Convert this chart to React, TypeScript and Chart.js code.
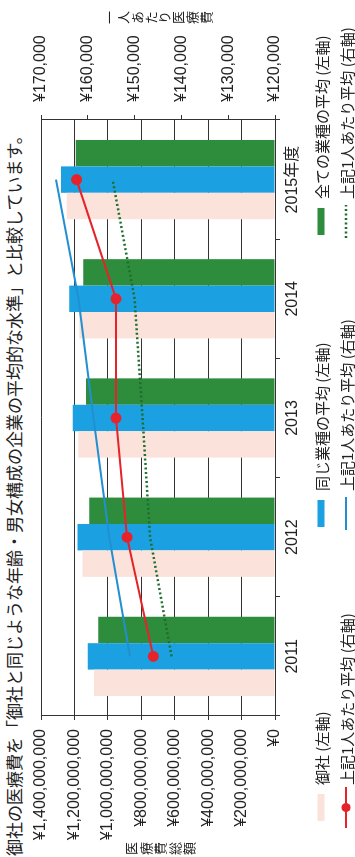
import React, { useEffect, useRef } from "react";
import { Chart, registerables } from "chart.js";

Chart.register(...registerables);

const categories = ["2011", "2012", "2013", "2014", "2015年度"];
const ownTotal = [1083000000, 1151000000, 1177000000, 1171000000, 1246000000];
const sameIndustryTotal = [1121000000, 1181000000, 1210000000, 1231000000, 1280000000];
const allIndustryTotal = [1057000000, 1111000000, 1131000000, 1147000000, 1192000000];
const ownPerPerson = [146000, 151600, 154000, 154000, 162400];
const samePerPerson = [151000, 155400, 158800, 162000, 166800];
const allPerPerson = [142100, 146700, 148300, 150000, 154700];

const leftTicks = { min: 0, max: 1400000000, step: 200000000 };
const rightTicks = { min: 120000, max: 170000, step: 10000 };

const titleText = "御社の医療費を「御社と同じような年齢・男女構成の企業の平均的な水準」と比較しています。";
const leftAxisTitle = "医療費総額";
const rightAxisTitle = "一人あたり医療費";

const PINK = "#fbe3db";
const BLUE = "#1ba0e2";
const GREEN = "#2e8c3d";
const RED = "#e6232b";
const LBLUE = "#2290d0";
const DGREEN = "#1f6e2c";

const W = 857;
const H = 355;
const LATIN = "'Liberation Sans', Arial, 'Noto Sans CJK JP', sans-serif";
const CJK = "'Noto Sans CJK JP', 'Liberation Sans', sans-serif";

const legendRows = [
  [
    { kind: "box", color: PINK, label: "御社 (左軸)" },
    { kind: "box", color: BLUE, label: "同じ業種の平均 (左軸)" },
    { kind: "box", color: GREEN, label: "全ての業種の平均 (左軸)" },
  ],
  [
    { kind: "marker", color: RED, label: "上記1人あたり平均 (右軸)" },
    { kind: "line", color: LBLUE, label: "上記1人あたり平均 (右軸)" },
    { kind: "dot", color: DGREEN, label: "上記1人あたり平均 (右軸)" },
  ],
];
const legendCols = [29, 323, 615];
const legendRowY = [321, 346];

function Symbol({ kind, color }: { kind: string; color: string }) {
  return (
    <svg width={41} height={12} style={{ display: "block", flex: "none" }}>
      {kind === "box" && <rect x={7} y={2.5} width={27} height={7} fill={color} />}
      {kind === "marker" && (
        <>
          <line x1={0} y1={6} x2={41} y2={6} stroke={color} strokeWidth={2} />
          <circle cx={20.5} cy={6} r={4.5} fill={color} />
        </>
      )}
      {kind === "line" && <line x1={4} y1={6} x2={37} y2={6} stroke={color} strokeWidth={2} />}
      {kind === "dot" && (
        <line x1={4} y1={6} x2={37} y2={6} stroke={color} strokeWidth={2.5} strokeDasharray="2 2.5" />
      )}
    </svg>
  );
}

export default function App() {
  const ref = useRef<HTMLCanvasElement | null>(null);

  useEffect(() => {
    if (!ref.current) return;
    const fmt = (v: any) => "¥" + Number(v).toLocaleString("en-US");
    const chart = new Chart(ref.current, {
      type: "bar",
      data: {
        labels: categories,
        datasets: [
          {
            type: "line",
            label: "御社 上記1人あたり平均 (右軸)",
            data: ownPerPerson,
            yAxisID: "y1",
            borderColor: RED,
            backgroundColor: RED,
            borderWidth: 2,
            pointRadius: 4.5,
            pointBackgroundColor: RED,
            pointBorderColor: RED,
            tension: 0,
            order: 0,
          } as any,
          {
            type: "line",
            label: "同じ業種 上記1人あたり平均 (右軸)",
            data: samePerPerson,
            yAxisID: "y1",
            borderColor: LBLUE,
            borderWidth: 2,
            pointRadius: 0,
            tension: 0,
            order: 0,
          } as any,
          {
            type: "line",
            label: "全ての業種 上記1人あたり平均 (右軸)",
            data: allPerPerson,
            yAxisID: "y1",
            borderColor: DGREEN,
            borderWidth: 2.5,
            borderDash: [2, 2.5],
            pointRadius: 0,
            tension: 0,
            order: 0,
          } as any,
          {
            type: "bar",
            label: "御社 (左軸)",
            data: ownTotal,
            yAxisID: "y",
            backgroundColor: PINK,
            borderWidth: 0,
            barPercentage: 1,
            categoryPercentage: 0.665,
            order: 1,
          } as any,
          {
            type: "bar",
            label: "同じ業種の平均 (左軸)",
            data: sameIndustryTotal,
            yAxisID: "y",
            backgroundColor: BLUE,
            borderWidth: 0,
            barPercentage: 1,
            categoryPercentage: 0.665,
            order: 1,
          } as any,
          {
            type: "bar",
            label: "全ての業種の平均 (左軸)",
            data: allIndustryTotal,
            yAxisID: "y",
            backgroundColor: GREEN,
            borderWidth: 0,
            barPercentage: 1,
            categoryPercentage: 0.665,
            order: 1,
          } as any,
        ],
      },
      options: {
        responsive: false,
        animation: false,
        maintainAspectRatio: false,
        layout: { padding: { top: 41, left: 0, right: 0, bottom: 0 } },
        plugins: {
          legend: { display: false },
          tooltip: { enabled: false },
          title: { display: false },
        },
        scales: {
          x: {
            type: "category",
            offset: true,
            grid: {
              display: true,
              offset: true,
              drawOnChartArea: false,
              drawTicks: true,
              tickLength: 5,
              color: "#333",
            },
            border: { display: true, color: "#333", width: 1 },
            ticks: {
              color: "#222",
              font: { size: 16, family: LATIN },
              padding: 3,
              maxRotation: 0,
              minRotation: 0,
            },
            afterFit: (s: any) => {
              s.height = 80;
            },
          },
          y: {
            position: "left",
            min: leftTicks.min,
            max: leftTicks.max,
            grid: { color: "#333", lineWidth: 1, tickLength: 4, drawTicks: true },
            border: { display: true, color: "#333", width: 1 },
            ticks: {
              stepSize: leftTicks.step,
              color: "#222",
              font: { size: 16, family: LATIN },
              padding: 9,
              callback: fmt,
            },
            afterFit: (s: any) => {
              s.width = 141;
            },
          },
          y1: {
            position: "right",
            min: rightTicks.min,
            max: rightTicks.max,
            grid: { drawOnChartArea: false, color: "#333", tickLength: 5, drawTicks: true },
            border: { display: true, color: "#333", width: 1 },
            ticks: {
              stepSize: rightTicks.step,
              color: "#222",
              font: { size: 16, family: LATIN },
              padding: 13,
              callback: fmt,
            },
            afterFit: (s: any) => {
              s.width = 120;
            },
          },
        },
      } as any,
    });
    return () => chart.destroy();
  }, []);

  return (
    <div
      style={{
        position: "fixed",
        left: 0,
        top: 0,
        width: 355,
        height: 857,
        overflow: "hidden",
        background: "#fff",
      }}
    >
      <div
        style={{
          position: "absolute",
          left: 0,
          top: 0,
          width: W,
          height: H,
          transformOrigin: "0 0",
          transform: `translate(0px, ${W}px) rotate(-90deg)`,
          background: "#fff",
          color: "#222",
        }}
      >
        <div
          style={{
            position: "absolute",
            left: 1,
            top: 4,
            fontFamily: CJK,
            fontSize: 17,
            lineHeight: "20px",
            whiteSpace: "nowrap",
          }}
        >
          {titleText}
        </div>
        <canvas
          ref={ref}
          width={W}
          height={H}
          style={{ position: "absolute", left: 0, top: 0, width: W, height: H }}
        />
        <div
          style={{
            position: "absolute",
            left: 1,
            top: 125,
            fontFamily: CJK,
            fontSize: 13,
            lineHeight: "14px",
            letterSpacing: "1.4px",
            writingMode: "vertical-rl",
            textOrientation: "upright",
            whiteSpace: "nowrap",
          }}
        >
          {leftAxisTitle}
        </div>
        <div
          style={{
            position: "absolute",
            left: 832,
            top: 103,
            fontFamily: CJK,
            fontSize: 13,
            lineHeight: "14px",
            letterSpacing: "0.75px",
            writingMode: "vertical-rl",
            textOrientation: "upright",
            whiteSpace: "nowrap",
          }}
        >
          {rightAxisTitle}
        </div>
        {legendRows.map((row, ri) =>
          row.map((item, ci) => (
            <div
              key={ri + "-" + ci}
              style={{
                position: "absolute",
                left: legendCols[ci],
                top: legendRowY[ri] - 10,
                height: 20,
                display: "flex",
                alignItems: "center",
                fontFamily: CJK,
                fontSize: 15,
                whiteSpace: "nowrap",
              }}
            >
              <Symbol kind={item.kind} color={item.color} />
              <span style={{ marginLeft: 2 }}>{item.label}</span>
            </div>
          ))
        )}
      </div>
    </div>
  );
}
